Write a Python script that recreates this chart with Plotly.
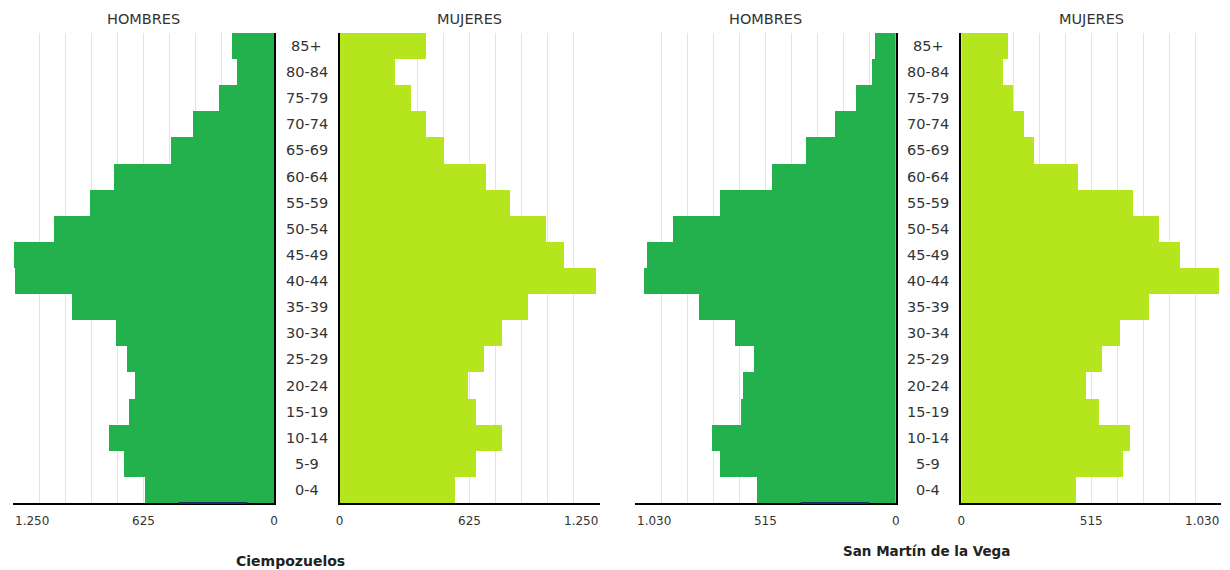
import plotly.graph_objects as go

ages = ["0-4", "5-9", "10-14", "15-19", "20-24", "25-29", "30-34", "35-39", "40-44",
        "45-49", "50-54", "55-59", "60-64", "65-69", "70-74", "75-79", "80-84", "85+"]

# Ciempozuelos
ciem_hombres = [616, 717, 792, 693, 667, 706, 755, 968, 1240, 1245, 1054, 880, 766, 491, 390, 265, 179, 203]
ciem_mujeres = [553, 654, 779, 654, 617, 691, 779, 904, 1229, 1079, 992, 816, 704, 502, 413, 340, 264, 413]

# San Martín de la Vega
smv_hombres = [549, 695, 725, 613, 602, 560, 633, 778, 994, 984, 879, 695, 487, 354, 239, 157, 94, 83]
smv_mujeres = [454, 641, 671, 548, 497, 557, 630, 744, 1024, 868, 784, 681, 465, 289, 248, 206, 166, 185]

ciem_max = 1250
smv_max = 1030
ciem_step = 625
smv_step = 515

# small dark strip visible on the base line of the men's panels (data units)
ciem_strip = [128, 455]
smv_strip = [106, 375]

town_names = ["Ciempozuelos", "San Martín de la Vega"]
panel_titles = ["HOMBRES", "MUJERES"]

COL_H = "#22b14c"
COL_M = "#b5e61d"
GRID = "#e3e3e3"
TXT = "#333333"

W, H = 1230, 570
def px(x):
    return x / W
def py(y):
    return 1 - y / H

y_dom = [py(503), py(33)]
x_doms = [[px(13), px(274)], [px(339.5), px(599.5)], [px(635), px(895.7)], [px(961.3), px(1221.3)]]

fig = go.Figure()
series = [(ciem_hombres, COL_H), (ciem_mujeres, COL_M), (smv_hombres, COL_H), (smv_mujeres, COL_M)]
for i, (vals, col) in enumerate(series):
    n = "" if i == 0 else str(i + 1)
    fig.add_trace(go.Bar(x=vals, y=ages, orientation="h", marker=dict(color=col, line=dict(width=0)),
                         xaxis="x" + n, yaxis="y" + n, showlegend=False, hoverinfo="skip"))

layout = dict(width=W, height=H, margin=dict(l=0, r=0, t=0, b=0, autoexpand=False), plot_bgcolor="white",
              paper_bgcolor="white", bargap=0, separators=",.",
              font=dict(family="DejaVu Sans", color=TXT))

def fmt(v):
    return f"{v:,}".replace(",", ".")

annotations = []
for i in range(4):
    n = "" if i == 0 else str(i + 1)
    mx = ciem_max if i < 2 else smv_max
    st = ciem_step if i < 2 else smv_step
    is_h = (i % 2 == 0)
    layout["xaxis" + n] = dict(
        domain=x_doms[i], anchor="y" + n, automargin=False,
        range=[mx, 0] if is_h else [0, mx],
        tickvals=[0, st], ticktext=[fmt(0), fmt(st)],
        showgrid=True, gridcolor=GRID, gridwidth=1,
        minor=dict(dtick=st / 5, tick0=0, showgrid=True, gridcolor=GRID, gridwidth=1),
        showline=True, linecolor="black", linewidth=2, layer="below traces",
        ticks="outside", ticklen=6, tickcolor="rgba(0,0,0,0)",
        tickfont=dict(size=12, color=TXT), zeroline=False, fixedrange=True)
    layout["yaxis" + n] = dict(
        domain=y_dom, anchor="x" + n, type="category", categoryorder="array", categoryarray=ages,
        range=[-0.5, len(ages) - 0.5], showticklabels=False, showgrid=False, automargin=False,
        showline=True, linecolor="black", linewidth=2,
        side="right" if is_h else "left", zeroline=False, ticks="", fixedrange=True)
    # end-of-axis tick label, aligned inwards
    annotations.append(dict(text=fmt(mx), xref="x" + n, yref="paper", x=mx, y=py(520.5),
                            showarrow=False, font=dict(size=12, color=TXT),
                            xanchor="left" if is_h else "right", yanchor="middle"))

fig.update_layout(**layout)

# panel titles
for i in range(4):
    d = x_doms[i]
    annotations.append(dict(text=panel_titles[i % 2], xref="paper", yref="paper",
                            x=(d[0] + d[1]) / 2, y=py(19), showarrow=False,
                            font=dict(size=14.5, color=TXT), xanchor="center", yanchor="middle"))
# age labels in the centre gap
for j, ya in enumerate(["y", "y3"]):
    cx = px(306.5) if j == 0 else px(928)
    for a in ages:
        annotations.append(dict(text=a, xref="paper", yref=ya, x=cx, y=a, showarrow=False,
                                font=dict(size=14.5, color=TXT), xanchor="center", yanchor="middle"))
# town names
annotations.append(dict(text="<b>" + town_names[0] + "</b>", xref="paper", yref="paper",
                        x=px(290), y=py(561), showarrow=False, font=dict(size=14, color="#222222"),
                        xanchor="center", yanchor="middle"))
annotations.append(dict(text="<b>" + town_names[1] + "</b>", xref="paper", yref="paper",
                        x=px(926), y=py(551), showarrow=False, font=dict(size=13.5, color="#222222"),
                        xanchor="center", yanchor="middle"))
fig.update_layout(annotations=annotations)

shapes = []
for xr, strip in (("x", ciem_strip), ("x3", smv_strip)):
    shapes.append(dict(type="line", xref=xr, yref="paper", x0=strip[0], x1=strip[1],
                       y0=y_dom[0], y1=y_dom[0], line=dict(color="#1b2f5e", width=2), layer="above"))
fig.update_layout(shapes=shapes)

fig.write_html("out.html", config={"displayModeBar": False},
               post_script="document.body.style.margin='0';document.body.style.overflow='hidden';")
